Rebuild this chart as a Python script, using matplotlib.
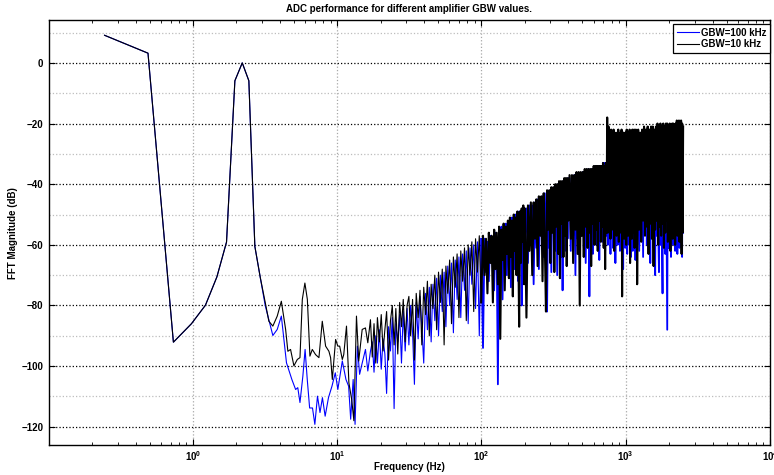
#!/usr/bin/env python3
"""Recreate the ADC FFT magnitude plot for two amplifier GBW values."""

import matplotlib

matplotlib.use("Agg")
import matplotlib.pyplot as plt
from matplotlib.ticker import FixedLocator, LogLocator, NullFormatter

plt.rcParams["font.family"] = ["Liberation Sans", "DejaVu Sans"]
plt.rcParams["mathtext.fontset"] = "custom"
plt.rcParams["mathtext.rm"] = "Liberation Sans"
plt.rcParams["mathtext.bf"] = "Liberation Sans:bold"

# Tone region, identical for both amplifiers (Hz, dB)
freq_tone = [0.244, 0.488, 0.732, 0.977, 1.221, 1.465, 1.709, 1.953, 2.197, 2.441, 2.686, 2.930]
db_tone = [9.1, 3.2, -92.1, -86, -79.9, -70.6, -59.1, -5.9, 0.0, -5.9, -60.5, -70.8]

# Low-frequency noise floor, read separately for each curve
freq_lo_10k = [3.17, 3.36, 3.58, 3.84, 4.10, 4.39, 4.55, 4.75, 5.01, 5.29,
               5.52, 5.73, 5.97, 6.21, 6.47, 6.72, 7.08, 7.47, 7.88, 8.31,
               8.76, 9.00, 9.25, 9.75, 10.1, 10.4, 10.85, 11.1, 11.6, 12.05,
               12.6, 13.05, 13.6, 14.1, 14.9, 15.7, 16.3, 17.0]
db_lo_10k = [-79, -85.2, -86.8, -83.5, -78.6, -87.9, -95.1, -94.5, -99.9, -97.8,
             -97.2, -78, -72.6, -78, -96.7, -94.5, -96.2, -97.2, -85.2, -93.4,
             -95.1, -97.2, -104.4, -91.2, -93.4, -93.4, -97.8, -96.2, -86.8, -105.5,
             -111, -118, -83.5, -98.3, -87.9, -87.4, -92.3, -84.7]

freq_lo_100k = [3.17, 3.58, 3.84, 4.10, 4.45, 4.85, 5.15, 5.33, 5.52, 5.78,
                5.99, 6.2, 6.44, 6.74, 7.0, 7.3, 7.6, 7.9, 8.25, 8.7,
                9.2, 9.7, 10.1, 10.85, 11.5, 12.0, 12.4, 12.9, 13.3, 13.8,
                14.3, 14.9, 15.7, 16.3, 17.0]
db_lo_100k = [-80, -89.9, -87.9, -83.5, -98.9, -104.4, -107.7, -107.1, -112, -103.3,
              -94.5, -104.4, -113.8, -113.8, -119.2, -109.9, -115.3, -110.4, -116.5, -110.4,
              -106.6, -102.2, -107.7, -98.3, -104.4, -106.6, -117.5, -104.4, -119.2, -93.4,
              -102.7, -99, -94.5, -101.6, -95.1]

# 17 - 100 Hz: individual noise spikes still distinguishable
freq_mid = [
    17.5, 18, 18.5, 19, 19.6, 20.2, 20.8, 21.4, 22, 22.7,
    23.4, 24.1, 24.8, 25.5, 26.3, 27.1, 27.9, 28.7, 29.6, 30.5,
    31.4, 32.3, 33.3, 34.3, 35.3, 36.4, 37.5, 38.6, 39.8, 41,
    42.2, 43.5, 44.8, 46.1, 47.5, 48.9, 50.4, 51.9, 53.5, 55.1,
    56.7, 58.4, 60.2, 62, 63.9, 65.8, 67.8, 69.8, 71.9, 74,
    76.3, 78.5, 80.9, 83.3, 85.8, 88.4, 91, 93.8, 96.6, 99.5,
]
db_mid_10k = [
    -97, -86, -99, -84, -92, -83, -95, -88, -82, -98,
    -85, -80, -93, -81, -96, -79, -87, -78, -92, -80,
    -77, -90, -78, -98, -76, -84, -75, -93, -74, -83,
    -72, -90, -73, -81, -70, -88, -69, -79, -68, -93,
    -67, -76, -65, -86, -64, -74, -63, -84, -62, -72,
    -61, -85, -60, -70, -59, -82, -58, -69, -57, -79,
]
db_mid_100k = [
    -92, -102, -90, -99, -88, -101, -91, -96, -109, -87,
    -95, -84, -114, -86, -92, -83, -99, -82, -95, -81,
    -93, -80, -89, -106, -79, -91, -77, -87, -99, -76,
    -88, -74, -92, -73, -85, -71, -90, -70, -82, -69,
    -87, -67, -80, -66, -89, -65, -78, -64, -84, -63,
    -75, -62, -86, -61, -73, -60, -81, -59, -90, -58,
]

# 100 Hz up to Nyquist: dense band, shared frequency grid
freq_hi = [
    99.5,
    102.5, 105, 107.5, 110, 112.5, 115, 117.5, 120, 122.5, 125,
    127.5, 130, 132.5, 135, 137.5, 140, 142.5, 145, 147.5, 150,
    152.5, 155, 157.5, 160, 162.5, 165, 167.5, 170, 172.5, 175,
    177.5, 180, 182.5, 185, 187.5, 190, 192.5, 195, 197.5, 200,
    205, 210, 215, 220, 225, 230, 235, 240, 245, 250,
    255, 260, 265, 270, 275, 280, 285, 290, 295, 300,
    305, 310, 315, 320, 325, 330, 335, 340, 345, 350,
    355, 360, 365, 370, 375, 380, 385, 390, 395, 400,
    408, 416, 424, 432, 440, 448, 456, 464, 472, 480,
    488, 496, 504, 512, 520, 528, 536, 544, 552, 560,
    568, 576, 584, 592, 600, 608, 616, 624, 632, 640,
    648, 656, 664, 672, 680, 688, 696, 704, 712, 720,
    728, 736,
    744, 752, 760, 768, 776, 784, 792, 800, 808, 816,
    824, 832, 840, 848, 856, 864, 872, 880, 888, 896,
    904, 912, 920, 928, 936, 944, 952, 960, 968, 976,
    984, 992, 1000, 1008, 1016, 1024, 1032, 1040, 1048, 1056,
    1064, 1072, 1080, 1088, 1096, 1104, 1112, 1120, 1128, 1136,
    1144, 1152, 1160, 1168, 1176, 1184, 1192, 1200,
    1220, 1240, 1260, 1280, 1300, 1320, 1340, 1360, 1380, 1400,
    1420, 1440, 1460, 1480, 1500, 1520, 1540, 1560, 1580, 1600,
    1620, 1640, 1660, 1680, 1700, 1720, 1740, 1760, 1780, 1800,
    1820, 1840, 1860, 1880, 1900, 1920, 1940, 1960, 1980, 2000,
    2020, 2040, 2060, 2080, 2100, 2120, 2140, 2160, 2180, 2200,
    2220, 2240, 2260, 2280, 2300, 2320, 2340, 2360, 2380, 2400,
    2420, 2440, 2460, 2480, 2500,
]

db_hi_10k = [
    -79,
    -57, -70, -58, -76, -56, -66, -57, -79, -55, -68,
    -56, -73, -54, -91, -55, -65, -53, -75, -54, -63,
    -52, -71, -51, -64, -52, -77, -50, -62, -51, -70,
    -49, -60, -87, -49, -66, -48, -59, -47, -73, -48,
    -84, -47, -62, -46, -70, -46, -58, -45, -67, -44,
    -57, -44, -72, -43, -60, -82, -42, -55, -42, -66,
    -41, -56, -41, -69, -40, -54, -40, -63, -39, -71,
    -39, -53, -39, -64, -38, -57, -38, -67, -38, -52,
    -37, -58, -37, -66, -37, -55, -36, -63, -36, -80,
    -36, -57, -36, -64, -35, -54, -35, -61, -35, -56,
    -35, -67, -35, -53, -34, -60, -34, -55, -34, -62,
    -34, -52, -34, -59, -34, -54, -33, -61, -34, -68,
    -33, -56,
    -18, -56, -21, -52, -23, -58, -22, -50, -24, -55,
    -22, -62, -23, -53, -25, -57, -23, -51, -22, -59,
    -24, -54, -23, -56, -22, -77, -24, -53, -23, -58,
    -25, -52, -23, -60, -22, -55, -24, -57, -23, -51,
    -22, -66, -24, -54, -23, -58, -22, -52, -23, -56,
    -22, -61, -23, -53, -22, -57, -23, -73,
    -22, -55, -23, -59, -22, -52, -21, -57, -22, -54,
    -21, -63, -22, -53, -21, -58, -21, -67, -22, -55,
    -21, -52, -20, -60, -21, -54, -20, -57, -21, -53,
    -20, -61, -21, -56, -20, -52, -20, -59, -21, -55,
    -20, -62, -21, -54, -20, -58, -20, -52, -21, -60,
    -20, -55, -19, -57, -20, -53, -19, -59, -20, -54,
    -19, -63, -20, -56, -21,
]

db_hi_100k = [
    -58,
    -94, -58, -69, -59, -72, -57, -64, -58, -75, -56,
    -62, -106, -55, -67, -54, -78, -55, -61, -53, -70,
    -54, -60, -52, -74, -51, -63, -52, -68, -50, -59,
    -51, -72, -49, -61, -50, -80, -48, -64, -49, -58,
    -48, -66, -47, -59, -47, -73, -46, -61, -45, -68,
    -45, -57, -44, -64, -43, -58, -82, -43, -61, -42,
    -69, -42, -55, -41, -62, -41, -70, -40, -56, -40,
    -64, -40, -75, -39, -55, -39, -62, -39, -58, -38,
    -38, -62, -38, -57, -37, -70, -37, -58, -37, -64,
    -37, -56, -36, -61, -36, -66, -36, -55, -35, -77,
    -36, -58, -35, -63, -35, -54, -34, -60, -34, -57,
    -34, -65, -35, -55, -34, -59, -33, -56, -33, -62,
    -33, -57,
    -25, -60, -24, -55, -26, -63, -25, -57, -24, -61,
    -26, -54, -25, -66, -24, -56, -25, -60, -26, -53,
    -24, -62, -25, -57, -26, -59, -25, -68, -24, -55,
    -26, -61, -25, -56, -24, -63, -25, -54, -26, -60,
    -24, -57, -25, -64, -24, -55, -26, -62, -25, -58,
    -24, -55, -25, -65, -26, -56, -24, -60,
    -24, -62, -25, -56, -24, -64, -23, -55, -24, -60,
    -23, -57, -24, -66, -23, -55, -24, -61, -23, -70,
    -24, -57, -23, -55, -69, -23, -60, -22, -56, -76,
    -22, -58, -23, -63, -22, -56, -88, -22, -61, -23,
    -57, -22, -64, -22, -56, -23, -60, -22, -55, -62,
    -22, -58, -21, -63, -22, -56, -21, -61, -22, -57,
    -21, -60, -64, -21, -56,
]

labels = ["GBW=100 kHz", "GBW=10 kHz"]
colors = ["#0000ff", "#000000"]

fig = plt.figure(figsize=(7.74, 4.75), dpi=100)
ax = fig.add_axes([0.0629, 0.0632, 0.9319, 0.8938])

# Blue first, black on top; the dense upper band is drawn a bit heavier
ax.plot(freq_tone + freq_lo_100k + freq_mid, db_tone + db_lo_100k + db_mid_100k,
        color=colors[0], lw=0.8, label=labels[0])
ax.plot(freq_hi, db_hi_100k, color=colors[0], lw=1.3)
ax.plot(freq_tone + freq_lo_10k + freq_mid, db_tone + db_lo_10k + db_mid_10k,
        color=colors[1], lw=0.8, label=labels[1])
ax.plot(freq_hi, db_hi_10k, color=colors[1], lw=1.5)

ax.set_xscale("log")
ax.set_xlim(0.1, 1e4)
ax.set_ylim(-126, 14)

# Ticks: MATLAB-like, inward on all sides
decades = [1, 10, 100, 1000, 10000]
ax.xaxis.set_major_locator(FixedLocator(decades))
ax.set_xticklabels([r"$\mathbf{10}^{\mathbf{%d}}$" % k for k in range(5)])
ax.xaxis.set_minor_locator(LogLocator(base=10, subs=range(2, 10), numticks=20))
ax.xaxis.set_minor_formatter(NullFormatter())
ax.set_yticks([-120, -100, -80, -60, -40, -20, 0])
ax.set_yticks(range(-120, 11, 10), minor=True)
ax.tick_params(which="both", direction="in", top=True, right=True)
ax.tick_params(which="major", length=4, width=0.8, labelsize=7, pad=4)
ax.tick_params(axis="x", which="major", pad=3)
ax.tick_params(which="minor", length=2.5, width=0.6)
ax.tick_params(axis="y", which="minor", length=0)
for lab in ax.get_yticklabels():
    lab.set_fontweight("bold")

# Grid: dark dotted on major y, light dotted elsewhere
ax.grid(False)
ax.yaxis.grid(True, which="major", color="#000000", linestyle=":", lw=0.9)
ax.yaxis.grid(True, which="minor", color="#bdbdbd", linestyle=":", lw=0.9)
ax.xaxis.grid(True, which="major", color="#a8a8a8", linestyle=":", lw=0.9)
ax.set_axisbelow(True)

for spine in ax.spines.values():
    spine.set_linewidth(1.0)
    spine.set_color("black")

ax.set_title("ADC performance for different amplifier GBW values.",
             fontsize=7, fontweight="bold", pad=6)
ax.set_xlabel("Frequency (Hz)", fontsize=7, fontweight="bold", labelpad=-1)
ax.set_ylabel("FFT Magnitude (dB)", fontsize=7, fontweight="bold", labelpad=2)

leg = ax.legend(loc="upper right", bbox_to_anchor=(1.0, 0.991), fontsize=7,
                frameon=True, fancybox=False, framealpha=1, edgecolor="black",
                borderaxespad=0.0, handlelength=2.3, handletextpad=0.2,
                borderpad=0.35, labelspacing=0.17)
leg.get_frame().set_linewidth(0.9)
for text in leg.get_texts():
    text.set_fontweight("bold")

fig.savefig("out.png", dpi=100, facecolor="white")
plt.close(fig)
